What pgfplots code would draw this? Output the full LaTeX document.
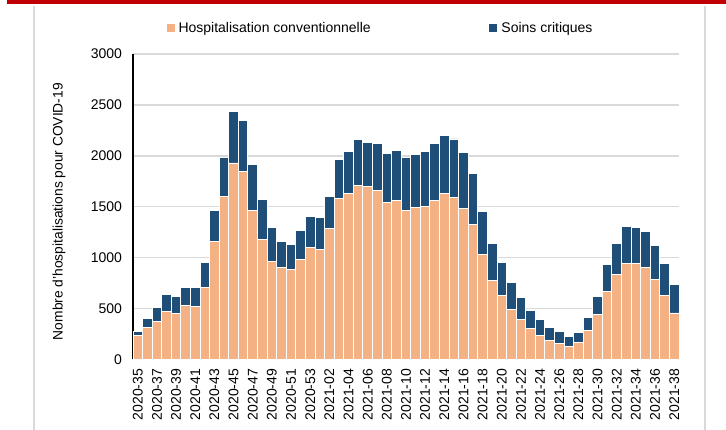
\documentclass[border=0pt]{standalone}
\usepackage{pgfplots}
\pgfplotsset{compat=1.18}
\usepackage{pgfplotstable}
\usepackage{fontspec}
\setmainfont{Liberation Sans}
\definecolor{conv}{HTML}{F4B183}
\definecolor{crit}{HTML}{1F4E79}
\definecolor{gridc}{HTML}{D9D9D9}
\definecolor{topred}{HTML}{C00000}
\pgfplotstableread{
i conv crit
0 232 46
1 317 85
2 370 137
3 474 164
4 448 167
5 526 180
6 517 193
7 703 249
8 1158 300
9 1599 383
10 1929 504
11 1848 500
12 1462 448
13 1180 393
14 961 337
15 903 258
16 880 251
17 978 287
18 1095 308
19 1082 311
20 1282 320
21 1583 382
22 1625 419
23 1707 451
24 1694 438
25 1655 464
26 1543 481
27 1560 494
28 1465 517
29 1491 520
30 1501 539
31 1563 556
32 1625 572
33 1589 576
34 1481 550
35 1321 504
36 1030 419
37 778 363
38 625 323
39 487 265
40 392 216
41 301 183
42 232 157
43 183 131
44 157 118
45 124 102
46 164 104
47 284 125
48 441 177
49 667 262
50 834 307
51 942 359
52 942 353
53 903 356
54 782 340
55 625 313
56 455 284
}\datatable
\begin{document}
\begin{tikzpicture}[x=1pt,y=1pt]
\useasboundingbox (0,0) rectangle (726,430);
\fill[topred] (7,426) rectangle (726,430);
\draw[gridc, line width=2pt] (34,0) -- (34,424);
\draw[gridc, line width=2pt] (705,0) -- (705,424);
\begin{axis}[
  at={(133pt,70.7pt)}, anchor=south west,
  scale only axis, width=546pt, height=305.3pt,
  ybar stacked, bar width=1,
  xmin=-0.5, xmax=56.5, ymin=0, ymax=3000,
  clip=false,
  axis x line*=bottom, axis y line*=left,
  axis line style={black, line width=1.2pt},
  major tick length=0pt,
  ytick={0,500,...,3000},
  ymajorgrids, major grid style={gridc, line width=1.5pt},
  xtick={0,2,...,56},
  xticklabels={2020-35,2020-37,2020-39,2020-41,2020-43,2020-45,2020-47,2020-49,2020-51,2020-53,2021-02,2021-04,2021-06,2021-08,2021-10,2021-12,2021-14,2021-16,2021-18,2021-20,2021-22,2021-24,2021-26,2021-28,2021-30,2021-32,2021-34,2021-36,2021-38},
  /pgf/number format/assume math mode=true,
  /pgf/number format/1000 sep={},
  tick label style={font=\fontsize{14}{16}\selectfont},
  yticklabel style={xshift=-7.5pt},
  xticklabel style={yshift=-6pt, rotate=90, anchor=east},
  ylabel={Nombre d'hospitalisations pour COVID-19},
  every axis y label/.style={at={(axis description cs:-0.1355,0.484)}, rotate=90, anchor=center, font=\fontsize{13.8}{16}\selectfont},
  legend style={at={(axis description cs:0.4515,1.085)}, anchor=center, draw=none, fill=none,
    legend columns=2, font=\fontsize{14}{16}\selectfont,
    nodes={inner sep=0pt},
    /tikz/every odd column/.append style={column sep=4pt},
    /tikz/every even column/.append style={column sep=118.7pt}},
  legend image code/.code={\fill[#1,draw=none] (0pt,-4pt) rectangle (8pt,4pt);},
]
\addplot[fill=conv, draw=white, line width=0.9pt] table[x=i, y=conv] {\datatable};
\addlegendentry{Hospitalisation conventionnelle}
\addplot[fill=crit, draw=white, line width=0.9pt] table[x=i, y=crit] {\datatable};
\addlegendentry{Soins critiques}
\draw[black, line width=1.5pt] (axis cs:-0.5,0) -- (axis cs:56.5,0);
\draw[black, line width=1.2pt] (axis cs:-0.5,0) -- (axis cs:-0.5,3000);
\end{axis}
\end{tikzpicture}
\end{document}
